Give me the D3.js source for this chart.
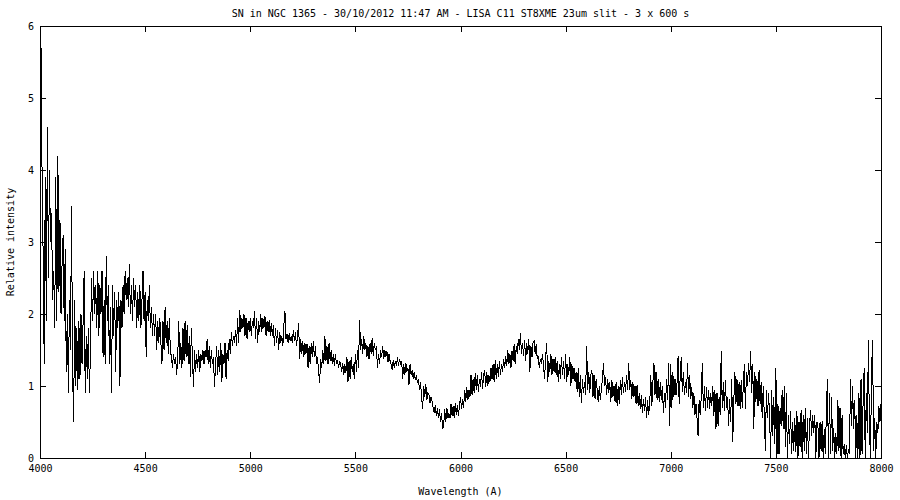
<!DOCTYPE html>
<html>
<head>
<meta charset="utf-8">
<script src="https://cdn.jsdelivr.net/npm/d3@7"></script>
<style>
  body { margin: 0; background: #fff; }
  svg { display: block; }
  text { font-family: "DejaVu Sans Mono", monospace; font-size: 10px; fill: #000; }
</style>
</head>
<body>
<svg id="chart" width="900" height="500"></svg>
<script>
// ---- data ----
const titleText = "SN in NGC 1365 - 30/10/2012 11:47 AM - LISA C11 ST8XME 23um slit - 3 x 600 s";
const xLabel = "Wavelength (A)";
const yLabel = "Relative intensity";
const xTicks = [4000, 4500, 5000, 5500, 6000, 6500, 7000, 7500, 8000];
const yTicks = [0, 1, 2, 3, 4, 5, 6];
const wavelengthStart = 4000;
const wavelengthStep = 5;
const intensity = [
  4.0, 5.7, 3.9, 2.8, 1.3, 3.9, 1.9, 4.6, 2.5, 4.0,
  3.0, 3.4, 2.2, 2.6, 1.8, 3.9, 1.9, 4.2, 2.3, 3.3,
  2.0, 2.7, 3.1, 1.9, 2.9, 1.2, 2.0, 0.9, 2.2, 1.5,
  3.5, 1.2, 0.5, 2.2, 1.0, 1.8, 0.95, 1.9, 1.1, 2.0,
  1.3, 1.9, 2.6, 0.9, 1.7, 1.1, 1.8, 0.9, 1.5, 2.5,
  1.9, 2.6, 2.0, 2.4, 1.8, 2.6, 1.7, 2.4, 2.0, 2.6,
  1.4, 2.2, 1.3, 2.8, 1.9, 2.4, 1.3, 2.1, 0.9, 2.4,
  1.7, 2.3, 1.2, 2.2, 1.8, 2.3, 1.0, 2.2, 1.8, 2.4,
  2.0, 2.6, 2.2, 2.5, 2.1, 2.7, 2.0, 2.4, 1.9, 2.5,
  2.1, 2.4, 1.8, 2.3, 1.9, 2.4, 1.8, 2.2, 2.6, 1.9,
  2.3, 1.4, 2.2, 1.9, 2.4, 1.8, 2.1, 1.7, 2.0, 1.7,
  2.0, 1.5, 1.9, 1.6, 1.95, 1.6, 1.3, 1.9, 1.5, 2.1,
  1.6, 1.9, 1.45, 1.95, 1.5, 1.4, 1.25, 1.45, 1.3, 1.4,
  1.16, 1.4, 1.9, 1.3, 1.6, 1.25, 1.8, 1.35, 1.9, 1.4,
  1.85, 1.3, 1.7, 1.13, 1.8, 1.4, 0.98, 1.5, 1.2, 1.45,
  1.25, 1.5, 1.2, 1.45, 1.35, 1.5, 1.3, 1.5, 1.4, 1.65,
  1.3, 1.55, 1.25, 1.5, 1.3, 1.4, 0.98, 1.3, 1.55, 1.15,
  1.5, 1.2, 1.6, 1.05, 1.45, 1.3, 1.6, 1.1, 1.5, 1.35,
  1.65, 1.45, 1.75, 1.55, 1.7, 1.6, 1.78, 1.55, 1.95, 1.6,
  2.06, 1.75, 1.95, 1.8, 2.0, 1.7, 1.95, 1.65, 1.9, 1.75,
  1.95, 1.7, 1.9, 1.8, 2.04, 1.65, 1.95, 1.6, 1.9, 1.75,
  2.0, 1.75, 1.95, 1.8, 1.97, 1.7, 1.9, 1.75, 1.92, 1.7,
  1.88, 1.7, 1.85, 1.55, 1.8, 1.6, 1.78, 1.5, 1.75, 1.6,
  1.7, 1.55, 1.85, 2.04, 1.65, 1.72, 1.6, 1.73, 1.62, 1.7,
  1.6, 1.78, 1.62, 1.75, 1.55, 1.7, 1.88, 1.38, 1.65, 1.45,
  1.62, 1.4, 1.6, 1.45, 1.58, 1.25, 1.55, 1.3, 1.6, 1.4,
  1.62, 1.4, 1.55, 1.3, 1.4, 1.2, 1.04, 1.38, 1.25, 1.5,
  1.3, 1.69, 1.35, 1.55, 1.3, 1.6, 1.35, 1.5, 1.3, 1.45,
  1.28, 1.45, 1.3, 1.36, 1.25, 1.35, 1.3, 1.2, 1.32, 1.15,
  1.3, 1.18, 1.4, 1.06, 1.35, 1.1, 1.4, 1.2, 1.3, 1.1,
  1.45, 1.2, 1.5, 1.25, 1.92, 1.5, 1.65, 1.45, 1.7, 1.5,
  1.6, 1.4, 1.55, 1.37, 1.6, 1.45, 1.67, 1.42, 1.6, 1.5,
  1.55, 1.25, 1.45, 1.3, 1.5, 1.4, 1.55, 1.37, 1.5, 1.4,
  1.48, 1.33, 1.45, 1.35, 1.3, 1.22, 1.36, 1.25, 1.34, 1.28,
  1.4, 1.28, 1.38, 1.3, 1.35, 1.1, 1.3, 1.15, 1.32, 1.2,
  1.25, 1.02, 1.3, 1.15, 1.22, 1.1, 1.2, 1.08, 1.15, 1.05,
  1.1, 0.95, 1.05, 0.85, 0.68, 1.0, 0.85, 1.03, 0.8, 0.9,
  0.88, 0.76, 0.85, 0.78, 0.7, 0.62, 0.74, 0.58, 0.7, 0.55,
  0.68, 0.5, 0.62, 0.4, 0.45, 0.68, 0.5, 0.7, 0.55, 0.62,
  0.55, 0.75, 0.58, 0.72, 0.55, 0.76, 0.6, 0.74, 0.58, 0.72,
  0.85, 0.68, 0.82, 0.7, 0.95, 0.78, 0.98, 0.8, 0.95, 0.85,
  1.15, 0.88, 1.1, 0.9, 1.18, 0.95, 1.15, 0.92, 1.1, 0.98,
  1.2, 0.96, 1.15, 1.22, 0.98, 1.2, 1.0, 1.15, 1.05, 1.25,
  1.1, 1.3, 1.05, 1.36, 1.1, 1.3, 1.12, 1.35, 1.15, 1.3,
  1.2, 1.38, 1.25, 1.42, 1.28, 1.5, 1.3, 1.45, 1.25, 1.48,
  1.35, 1.58, 1.3, 1.55, 1.45, 1.65, 1.5, 1.74, 1.45, 1.6,
  1.42, 1.64, 1.35, 1.6, 1.45, 1.65, 1.2, 1.55, 1.4, 1.6,
  1.62, 1.45, 1.58, 1.38, 1.4, 1.25, 1.38, 1.3, 1.45, 1.28,
  1.1, 1.4, 1.6, 1.05, 1.35, 1.2, 1.45, 1.15, 1.38, 1.2,
  1.4, 1.15, 1.35, 1.05, 1.3, 1.1, 1.4, 1.15, 1.35, 1.1,
  1.45, 1.05, 1.3, 1.15, 1.4, 1.0, 1.3, 1.1, 1.25, 1.05,
  1.2, 0.92, 1.25, 0.85, 1.15, 0.76, 1.1, 0.9, 1.05, 0.88,
  1.55, 0.95, 1.2, 0.9, 1.15, 1.22, 0.85, 1.15, 0.82, 1.1,
  0.95, 0.78, 1.0, 0.8, 0.95, 1.1, 1.32, 1.0, 1.12, 0.88,
  1.1, 0.9, 1.05, 0.78, 1.08, 0.85, 1.0, 0.78, 1.05, 0.72,
  1.0, 0.75, 1.08, 0.88, 1.12, 0.9, 1.05, 0.92, 1.15, 0.95,
  1.32, 0.95, 1.08, 0.82, 1.05, 0.85, 1.0, 0.75, 1.02, 0.72,
  0.9, 0.68, 0.88, 0.62, 0.82, 0.65, 0.85, 0.55, 0.8, 0.6,
  0.75, 1.15, 0.72, 1.05, 1.32, 0.88, 1.2, 0.8, 1.1, 0.78,
  1.05, 0.8, 1.0, 0.62, 0.9, 0.7, 1.1, 0.8, 1.32, 0.45,
  1.3, 0.7, 1.2, 0.85, 1.1, 0.88, 1.05, 1.42, 0.75, 1.15,
  1.4, 0.92, 1.2, 0.88, 1.05, 0.9, 1.32, 0.85, 1.15, 0.82,
  0.98, 0.7, 0.9, 0.6, 0.75, 0.55, 0.3, 0.8, 0.6, 0.85,
  1.32, 0.7, 1.0, 0.65, 0.98, 0.7, 0.95, 0.68, 0.9, 0.72,
  1.0, 0.58, 0.95, 0.4, 0.9, 0.45, 0.85, 0.6, 1.49, 0.7,
  1.05, 0.65, 1.08, 0.7, 0.85, 0.45, 0.82, 0.5, 1.1, 0.22,
  0.8, 1.2, 0.75, 1.1, 0.72, 1.05, 0.68, 1.08, 0.7, 1.0,
  1.3, 0.68, 1.2, 1.0, 1.32, 1.05, 1.48, 0.9, 1.3, 0.4,
  1.2, 0.78, 1.1, 0.72, 1.22, 0.75, 1.05, 0.55, 1.0, 0.6,
  0.1, 0.95, 0.55, 0.9, 0.6, 0.0, 0.95, 0.3, 0.85, 0.2,
  1.25, 0.0, 0.75, 0.05, 0.7, 0.45, 0.95, 0.4, 1.0, 0.15,
  0.9, 0.0, 0.6, 0.2, 0.65, 0.05, 0.5, 0.1, 0.55, 0.08,
  0.65, 0.0, 0.5, 0.15, 0.67, 0.0, 0.6, 0.1, 0.7, 0.06,
  0.55, 0.0, 0.45, 0.67, 0.3, 0.6, 0.35, 0.6, 0.0, 0.5,
  0.45, 0.0, 0.5, 0.1, 0.52, 0.0, 0.4, 0.05, 0.6, 1.1,
  0.0, 0.9, 0.05, 0.85, 0.1, 0.42, 0.0, 0.35, 0.05, 0.8,
  0.1, 0.7, 0.0, 0.6, 0.05, 0.2, 0.0, 0.18, 0.0, 0.12,
  0.05, 1.1, 0.45, 1.0, 0.4, 0.8, 0.0, 0.6, 0.0, 0.9,
  0.0, 1.1, 0.05, 0.8, 1.25, 0.0, 0.9, 0.35, 1.64, 0.4,
  0.0, 1.2, 1.64, 0.1, 0.55, 0.0, 0.5, 0.35, 0.72, 0.5,
  0.75
];

// ---- layout ----
const plot = { left: 40, right: 881, top: 26, bottom: 458 };
const svg = d3.select("#chart");

const x = d3.scaleLinear().domain([4000, 8000]).range([plot.left, plot.right]);
const y = d3.scaleLinear().domain([0, 6]).range([plot.bottom, plot.top]);

const data = intensity.map((v, i) => ({ w: wavelengthStart + i * wavelengthStep, v }));

svg.append("defs").append("clipPath").attr("id", "clip")
  .append("rect")
  .attr("x", plot.left).attr("y", plot.top)
  .attr("width", plot.right - plot.left).attr("height", plot.bottom - plot.top);

// spectrum line
const line = d3.line().x(d => x(d.w)).y(d => y(d.v));
svg.append("path")
  .datum(data)
  .attr("clip-path", "url(#clip)")
  .attr("d", line)
  .attr("fill", "none")
  .attr("stroke", "#000")
  .attr("stroke-width", 1)
  .attr("shape-rendering", "crispEdges");

// axes (gnuplot style: inward ticks, mirrored)
function styleAxis(g) {
  g.select(".domain").remove();
  g.selectAll(".tick line").attr("stroke", "#000").attr("shape-rendering", "crispEdges");
  g.selectAll(".tick text").attr("font-family", "DejaVu Sans Mono, monospace").attr("font-size", 10).attr("fill", "#000");
}

svg.append("g")
  .attr("transform", `translate(0,${plot.bottom})`)
  .call(d3.axisBottom(x).tickValues(xTicks).tickSize(-6).tickPadding(7).tickFormat(d3.format("d")))
  .call(styleAxis);

svg.append("g")
  .attr("transform", `translate(0,${plot.top})`)
  .call(d3.axisTop(x).tickValues(xTicks).tickSize(-6).tickFormat(""))
  .call(styleAxis);

svg.append("g")
  .attr("transform", `translate(${plot.left},0)`)
  .call(d3.axisLeft(y).tickValues(yTicks).tickSize(-6).tickPadding(6).tickFormat(d3.format("d")))
  .call(styleAxis);

svg.append("g")
  .attr("transform", `translate(${plot.right},0)`)
  .call(d3.axisRight(y).tickValues(yTicks).tickSize(-6).tickFormat(""))
  .call(styleAxis);

// frame
svg.append("rect")
  .attr("x", plot.left + 0.5).attr("y", plot.top + 0.5)
  .attr("width", plot.right - plot.left).attr("height", plot.bottom - plot.top)
  .attr("fill", "none").attr("stroke", "#000").attr("stroke-width", 1)
  .attr("shape-rendering", "crispEdges");

// titles
const cx = (plot.left + plot.right) / 2;
svg.append("text").attr("x", cx).attr("y", 17).attr("text-anchor", "middle").text(titleText);
svg.append("text").attr("x", cx).attr("y", 495).attr("text-anchor", "middle").text(xLabel);
svg.append("text")
  .attr("transform", `translate(14,${(plot.top + plot.bottom) / 2}) rotate(-90)`)
  .attr("text-anchor", "middle").text(yLabel);
</script>
</body>
</html>
